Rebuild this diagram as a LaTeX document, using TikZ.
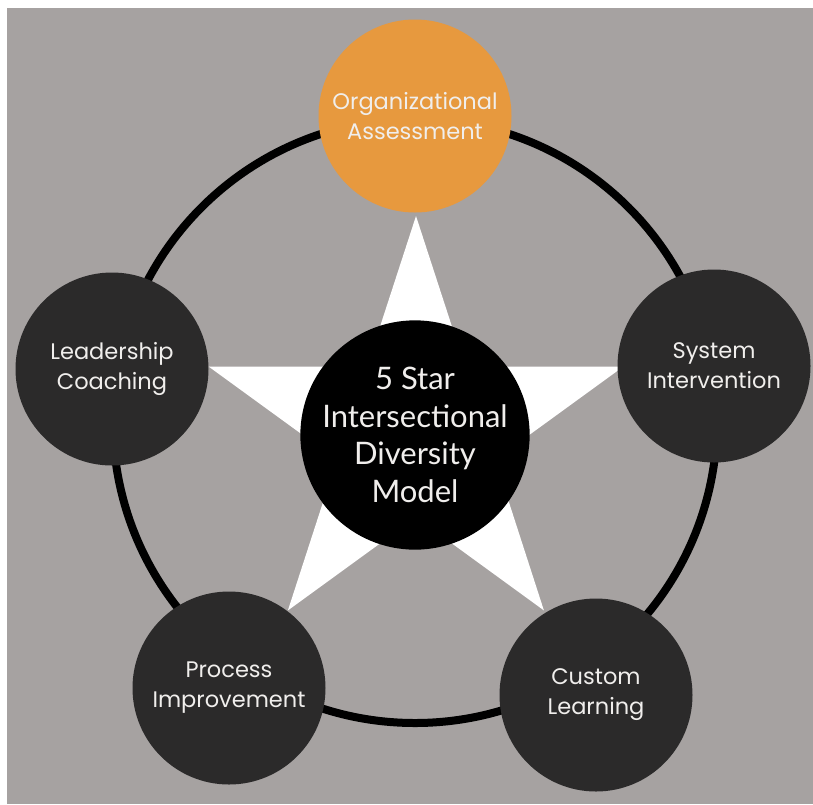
\documentclass[tikz,border=0pt]{standalone}
\usepackage{fontspec}
\setmainfont{Poppins}
\newfontfamily\centerfont{Lato}
\definecolor{bggray}{RGB}{166,162,161}
\definecolor{nodedark}{RGB}{43,42,42}
\definecolor{orangefill}{RGB}{231,153,62}
\definecolor{textwhite}{RGB}{240,238,236}
\begin{document}
\begin{tikzpicture}[x=1pt,y=-1pt,
  outer/.style={circle,fill=nodedark,minimum size=193pt,inner sep=0pt,align=center,
    text=textwhite,font=\fontsize{22.5}{30}\selectfont},
  hub/.style={circle,fill=black,minimum size=216pt,inner sep=0pt,align=center,
    text=textwhite,font=\centerfont\fontsize{31}{37.5}\selectfont},
  ring/.style={line width=8pt,black}]
\useasboundingbox (0,0) rectangle (813,804);
\fill[white] (0,0) rectangle (813,804);
\fill[bggray] (7,8) rectangle (813,804);
\coordinate (ringc) at (415,421);
\draw[ring] (ringc) circle[radius=302];
\fill[white] (416,216) -- (367.0,366.6) -- (208.7,366.6) -- (336.8,459.7)
  -- (287.9,610.4) -- (416,517.3) -- (543.9,610.4) -- (495.2,459.7)
  -- (623.3,366.6) -- (465.0,366.6) -- cycle;
\node[hub] (center) at (415,435) {5 Star\\Intersectional\\Diversity\\Model};
\node[outer,fill=orangefill] (oa) at (415,116) {Organizational\\Assessment};
\node[outer] (lc) at (112,369) {Leadership\\Coaching};
\node[outer] (si) at (714,366) {System\\Intervention};
\node[outer] (pi) at (229,688) {Process\\Improvement};
\node[outer] (cl) at (596,695) {Custom\\Learning};
\end{tikzpicture}
\end{document}
